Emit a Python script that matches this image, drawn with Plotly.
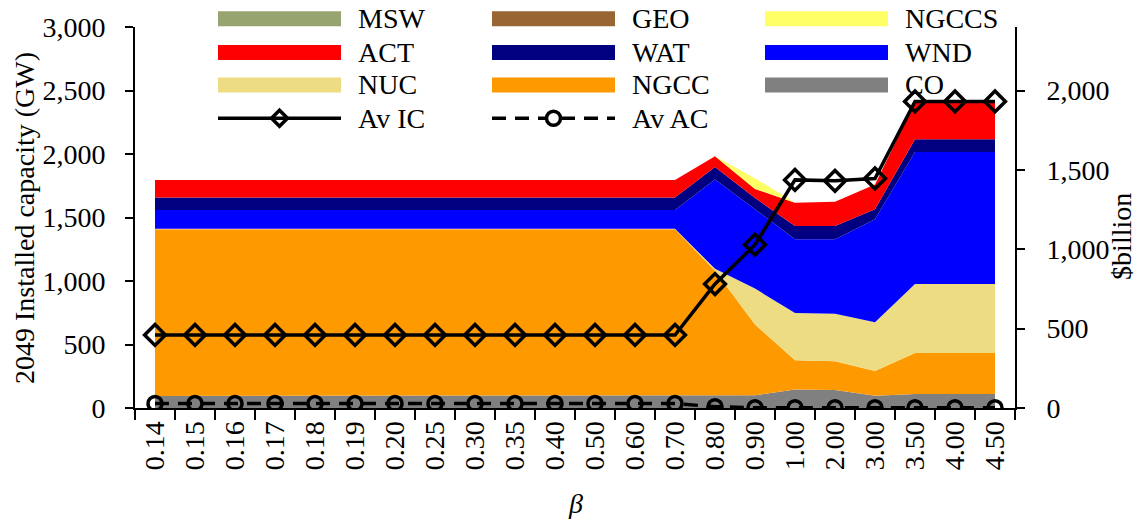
import plotly.graph_objects as go

# Scenario parameter (category axis)
beta = ["0.14", "0.15", "0.16", "0.17", "0.18", "0.19", "0.20", "0.25", "0.30",
        "0.35", "0.40", "0.50", "0.60", "0.70", "0.80", "0.90", "1.00", "2.00",
        "3.00", "3.50", "4.00", "4.50"]

# 2049 installed capacity by technology (GW), stacked bottom to top
co = [95] * 14 + [95, 100, 146, 141, 96, 110, 110, 110]
ngcc = [1312] * 14 + [986, 558, 230, 227, 196, 323, 323, 323]
nuc = [5] * 14 + [15, 282, 372, 374, 384, 544, 544, 544]
wnd = [148] * 14 + [703, 627, 581, 587, 810, 1038, 1038, 1038]
wat = [97] * 14 + [99, 86, 104, 104, 78, 102, 102, 102]
act = [138] * 14 + [84, 72, 183, 191, 196, 290, 290, 290]
ngccs = [0] * 14 + [0, 85, 0, 0, 0, 0, 0, 0]
geo = [0] * 22
msw = [0] * 22

# Average installed / annual cost ($billion, right axis)
av_ic = [460] * 14 + [781, 1029, 1437, 1431, 1446, 1931, 1931, 1931]
av_ac = [28] * 14 + [8, 2, 2, 2, 2, 2, 2, 2]

FONT = "Liberation Serif"
FS = 28

stack = [
    ("CO", co, "#808080"),
    ("NGCC", ngcc, "#FF9900"),
    ("NUC", nuc, "#EEDC82"),
    ("WND", wnd, "#0000FF"),
    ("WAT", wat, "#000080"),
    ("ACT", act, "#FF0000"),
    ("NGCCS", ngccs, "#FFFF66"),
    ("GEO", geo, "#996633"),
    ("MSW", msw, "#98A46F"),
]

fig = go.Figure()
for name, vals, col in stack:
    fig.add_trace(go.Scatter(
        x=beta, y=vals, name=name, stackgroup="cap", mode="lines",
        line=dict(width=0, color=col), fillcolor=col, showlegend=False))

fig.add_trace(go.Scatter(
    x=beta, y=av_ac, name="Av AC", yaxis="y2", mode="lines+markers",
    line=dict(color="black", width=3.5, dash="14px,9px"),
    marker=dict(symbol="circle-open", size=14, color="black",
                line=dict(width=3.5, color="black")),
    showlegend=False))
fig.add_trace(go.Scatter(
    x=beta, y=av_ic, name="Av IC", yaxis="y2", mode="lines+markers",
    line=dict(color="black", width=3.5),
    marker=dict(symbol="diamond-open", size=16, color="black",
                line=dict(width=3.5, color="black")),
    showlegend=False))

# Plot area geometry in pixels
W, H = 1138, 523
L, R, T, B = 135, 123, 25, 115
PW, PH = W - L - R, H - T - B


def px(x):
    return (x - L) / PW


def py(y):
    return (H - B - y) / PH


shapes = []
annotations = []

# Hand-built legend: 3 columns x 4 rows
col_x = [218, 492, 765]
row_y = [16.7, 50.7, 83.3, 116.7]
sw_w = 123
sw_h = 15
legend_items = [
    ("MSW", "#98A46F"), ("GEO", "#996633"), ("NGCCS", "#FFFF66"),
    ("ACT", "#FF0000"), ("WAT", "#000080"), ("WND", "#0000FF"),
    ("NUC", "#EEDC82"), ("NGCC", "#FF9900"), ("CO", "#808080"),
]
for i, (name, col) in enumerate(legend_items):
    cx = col_x[i % 3]
    cy = row_y[i // 3]
    shapes.append(dict(type="rect", xref="paper", yref="paper",
                       x0=px(cx), x1=px(cx + sw_w),
                       y0=py(cy - sw_h / 2), y1=py(cy + sw_h / 2),
                       fillcolor=col, line=dict(width=0)))
    annotations.append(dict(text=name, xref="paper", yref="paper",
                            x=px(cx + 138), y=py(cy), xanchor="left",
                            yanchor="middle", showarrow=False,
                            font=dict(family=FONT, size=FS, color="black")))

# Line entries
ly = row_y[3]
x0 = col_x[0]
shapes.append(dict(type="line", xref="paper", yref="paper",
                   x0=px(x0), x1=px(x0 + sw_w), y0=py(ly), y1=py(ly),
                   line=dict(color="black", width=3.5)))
mx = x0 + sw_w / 2
h = 8
shapes.append(dict(type="path", xref="paper", yref="paper",
                   path=(f"M{px(mx - h)},{py(ly)} L{px(mx)},{py(ly - h)} "
                         f"L{px(mx + h)},{py(ly)} L{px(mx)},{py(ly + h)} Z"),
                   fillcolor="rgba(0,0,0,0)", line=dict(color="black", width=3.5)))
annotations.append(dict(text="Av IC", xref="paper", yref="paper",
                        x=px(x0 + 138), y=py(ly), xanchor="left",
                        yanchor="middle", showarrow=False,
                        font=dict(family=FONT, size=FS, color="black")))

x0 = col_x[1]
shapes.append(dict(type="line", xref="paper", yref="paper",
                   x0=px(x0), x1=px(x0 + sw_w), y0=py(ly), y1=py(ly),
                   line=dict(color="black", width=3.5, dash="14px,9px")))
mx = x0 + sw_w / 2
r = 7
shapes.append(dict(type="circle", xref="paper", yref="paper",
                   x0=px(mx - r), x1=px(mx + r), y0=py(ly + r), y1=py(ly - r),
                   fillcolor="white", line=dict(color="black", width=3.5)))
annotations.append(dict(text="Av AC", xref="paper", yref="paper",
                        x=px(x0 + 138), y=py(ly), xanchor="left",
                        yanchor="middle", showarrow=False,
                        font=dict(family=FONT, size=FS, color="black")))

# Axis titles
annotations.append(dict(text="2049 Installed capacity (GW)", xref="paper",
                        yref="paper", x=px(25), y=py(217), textangle=-90,
                        showarrow=False, xanchor="center", yanchor="middle",
                        font=dict(family=FONT, size=FS, color="black")))
annotations.append(dict(text="$billion", xref="paper", yref="paper",
                        x=px(1122), y=py(236), textangle=-90,
                        showarrow=False, xanchor="center", yanchor="middle",
                        font=dict(family=FONT, size=FS, color="black")))
annotations.append(dict(text="<i>β</i>", xref="paper", yref="paper",
                        x=px(575), y=py(504), showarrow=False,
                        xanchor="center", yanchor="middle",
                        font=dict(family=FONT, size=FS, color="black")))

axis_font = dict(family=FONT, size=FS, color="black")
fig.update_layout(
    width=W, height=H,
    margin=dict(l=L, r=R, t=T, b=B, pad=0),
    paper_bgcolor="white", plot_bgcolor="white",
    showlegend=False,
    shapes=shapes, annotations=annotations,
    xaxis=dict(type="category", categoryorder="array", categoryarray=beta,
               range=[-0.5, len(beta) - 0.5], tickangle=-90,
               tickson="boundaries", ticks="outside", ticklen=10, tickwidth=2,
               tickcolor="black", showline=True, linecolor="black",
               linewidth=2, showgrid=False, zeroline=False,
               tickfont=axis_font),
    yaxis=dict(range=[0, 3000], dtick=500, tickformat=",d", ticks="outside",
               ticklen=8, tickwidth=2, tickcolor="black", showline=True,
               linecolor="black", linewidth=2, showgrid=False, zeroline=False,
               tickfont=axis_font, ticklabelstandoff=14),
    yaxis2=dict(range=[0, 2400], tickvals=[0, 500, 1000, 1500, 2000],
                tickformat=",d", overlaying="y", side="right",
                ticks="outside", ticklen=8, tickwidth=2, tickcolor="black",
                showline=True, linecolor="black", linewidth=2,
                showgrid=False, zeroline=False, tickfont=axis_font,
                ticklabelstandoff=16),
)

fig.write_html("out.html")
